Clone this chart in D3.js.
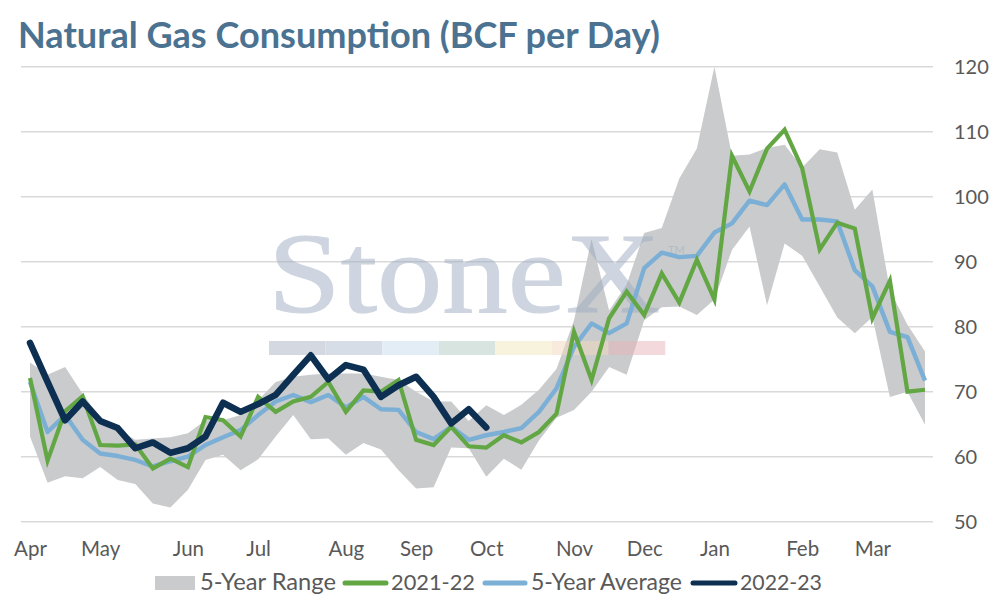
<!DOCTYPE html>
<html>
<head>
<meta charset="utf-8">
<script src="https://cdn.jsdelivr.net/npm/d3@7/dist/d3.min.js"></script>
<style>
  html, body { margin: 0; padding: 0; background: #fff; }
  svg { display: block; }
  text { font-family: "Lato", "Inter", sans-serif; }
</style>
</head>
<body>
<svg id="chart" width="994" height="606"></svg>
<script>
// ---- Data (weekly, Apr .. Mar) ----
const monthLabels = ["Apr","May","Jun","Jul","Aug","Sep","Oct","Nov","Dec","Jan","Feb","Mar"];
const monthWeekIndex = [0,4,9,13,18,22,26,31,35,39,44,48];
const yTicks = [50,60,70,80,90,100,110,120];

const rangeLow = [63.1,56,57,56.7,58.4,56.4,55.8,52.8,52.2,54.9,59.5,60.3,57.9,59.6,63.1,66.4,62.7,62.8,60.3,62.1,61.1,57.9,55.1,55.3,61.4,61.3,56.9,59.7,58,62.5,66,67.2,70,73.8,72.6,81,83,83.1,81.8,84.2,91.8,95.4,83.3,92.8,90.9,86.2,81.4,79,81.5,69.2,70,64.9];
const rangeHigh = [74.5,72.6,73.8,69.7,66,64.1,62.6,62.8,63,63.6,65.6,65.6,66.4,68.7,71.5,72.3,72.6,72.8,72.8,72.8,72.3,71.8,70,68.5,68.5,65.5,67.9,66.4,68,70.3,73.5,81,93.5,82.5,86.5,94.4,95.2,102.8,107.4,120,106.3,106.5,107.5,108,104.5,107.3,106.8,98,101.1,85.6,80.3,76.2];
const season2122 = [72.1,59.4,67,69.3,61.8,61.7,61.9,58.2,59.7,58.4,66.1,65.6,63.1,69.2,66.9,68.5,69.2,71.5,66.9,70.2,70,71.8,62.6,61.8,64.6,61.6,61.4,63.3,62.2,63.8,66.6,79.2,71.8,81.3,85.4,81.8,88.2,83.7,90.3,84.2,106.3,100.8,107.4,110.3,104.4,91.9,96,95.1,81.3,87.1,70,70.3];
const fiveYearAvg = [71.5,63.8,66.4,62.6,60.5,60.1,59.5,58.5,59.3,60,61.8,63,64.1,66.4,68.5,69.5,68.4,69.5,67.6,69.2,67.3,67.2,63.8,62.7,64.6,62.6,63.3,63.8,64.4,66.9,70.5,76.9,80.5,79,80.5,89,91.4,90.7,90.9,94.5,95.9,99.4,98.7,101.9,96.5,96.5,96.2,88.7,86.2,79.2,78.4,71.7];
const season2223 = [77.5,71.5,65.6,68.5,65.5,64.4,61.3,62.2,60.6,61.3,63.1,68.3,66.9,68.1,69.5,72.6,75.6,71.9,74.1,73.4,69.2,71,72.3,69.2,65.1,67.3,64.5];

const legendNames = ["5-Year Range","2021-22","5-Year Average","2022-23"];

// ---- Styles ----
const COL_RANGE = "#c9cbcc", COL_2122 = "#62a744", COL_AVG = "#7bafd6", COL_2223 = "#0c2f52";
const TXT = "#595959";

const svg = d3.select("#chart");
const x = d3.scaleLinear().domain([0, rangeLow.length - 1]).range([30, 925]);
const y = d3.scaleLinear().domain([50, 120]).range([521.7, 66.7]);

// title
const title = svg.append("text")
  .attr("x", 18).attr("y", 48)
  .attr("fill", "#4b7290")
  .style("font-weight", 700)
  .style("font-size", "33px")
  .text("Natural Gas Consumption (BCF per Day)");
{
  const w = title.node().getComputedTextLength();
  title.style("font-size", (33 * 642 / w).toFixed(2) + "px");
}

// gridlines
svg.append("g").selectAll("line").data(yTicks).join("line")
  .attr("x1", 21).attr("x2", 933)
  .attr("y1", d => y(d)).attr("y2", d => y(d))
  .attr("stroke", "#d9d9d9").attr("stroke-width", 1.5);

// y axis (right)
const yAxis = svg.append("g").attr("transform", "translate(954,0)")
  .call(d3.axisRight(y).tickValues(yTicks).tickSize(0).tickPadding(0));
yAxis.select(".domain").remove();
yAxis.selectAll("text").attr("fill", TXT).style("font-size", "20px").style("font-family", "Lato").attr("text-anchor", "start");

// x axis
const xAxis = svg.append("g").attr("transform", "translate(0,536)")
  .call(d3.axisBottom(x).tickValues(monthWeekIndex).tickFormat((d, i) => monthLabels[i]).tickSize(0).tickPadding(5));
xAxis.select(".domain").remove();
xAxis.selectAll("text").attr("fill", TXT).style("font-size", "20.5px").style("font-family", "Lato");

// range area
const idx = d3.range(rangeLow.length);
svg.append("path")
  .datum(idx)
  .attr("fill", COL_RANGE)
  .attr("d", d3.area().x(i => x(i)).y0(i => y(rangeLow[i])).y1(i => y(rangeHigh[i])));

// watermark
const wm = svg.append("g").attr("opacity", 0.5);
wm.append("text").attr("x", 268).attr("y", 312)
  .style("font-family", "Liberation Serif, DejaVu Serif, serif")
  .style("font-size", "114px").attr("fill", "#9eadc2").attr("stroke", "#9eadc2").attr("stroke-width", 1.2)
  .attr("textLength", 392).attr("lengthAdjust", "spacingAndGlyphs")
  .text("StoneX");
wm.append("text").attr("x", 668).attr("y", 254)
  .style("font-size", "11px").attr("fill", "#9eadc2").text("TM");
const wmColors = ["#a9b3c4","#aebdd0","#c8dcec","#b2cbc0","#f3e9bd","#f3d9bd","#e9b5b9"];
wm.selectAll("rect").data(wmColors).join("rect")
  .attr("x", (d, i) => 269 + i * 56.6).attr("y", 341).attr("width", 56.6).attr("height", 14)
  .attr("fill", d => d);

// lines
const line = arr => d3.line().x((d, i) => x(i)).y(d => y(d))(arr);
svg.append("path").attr("d", line(fiveYearAvg)).attr("fill", "none")
  .attr("stroke", COL_AVG).attr("stroke-width", 4.4).attr("stroke-linejoin", "round");
svg.append("path").attr("d", line(season2122)).attr("fill", "none")
  .attr("stroke", COL_2122).attr("stroke-width", 4.2).attr("stroke-linejoin", "miter");
svg.append("path").attr("d", line(season2223)).attr("fill", "none")
  .attr("stroke", COL_2223).attr("stroke-width", 6.5).attr("stroke-linejoin", "round").attr("stroke-linecap", "round");

// legend
const legY = 583;
const legendItems = [
  {name: legendNames[0], type: "rect", color: COL_RANGE, sx: 155, sw: 40, tx: 200, tw: 136},
  {name: legendNames[1], type: "line", color: COL_2122, sx: 343, sw: 45, tx: 391, tw: 84},
  {name: legendNames[2], type: "line", color: COL_AVG, sx: 483, sw: 44, tx: 531, tw: 151},
  {name: legendNames[3], type: "line", color: COL_2223, sx: 691, sw: 46, tx: 740, tw: 82}
];
const leg = svg.append("g");
legendItems.forEach(it => {
  if (it.type === "rect") {
    leg.append("rect").attr("x", it.sx).attr("y", legY - 7).attr("width", it.sw).attr("height", 14).attr("fill", it.color);
  } else {
    leg.append("line").attr("x1", it.sx + 2).attr("x2", it.sx + it.sw - 2).attr("y1", legY).attr("y2", legY)
      .attr("stroke", it.color).attr("stroke-width", 5).attr("stroke-linecap", "round");
  }
  const t = leg.append("text").attr("x", it.tx).attr("y", legY + 7)
    .attr("fill", TXT).style("font-size", "20px").text(it.name);
  const w = t.node().getComputedTextLength();
  t.style("font-size", (20 * it.tw / w).toFixed(2) + "px");
});
</script>
</body>
</html>
